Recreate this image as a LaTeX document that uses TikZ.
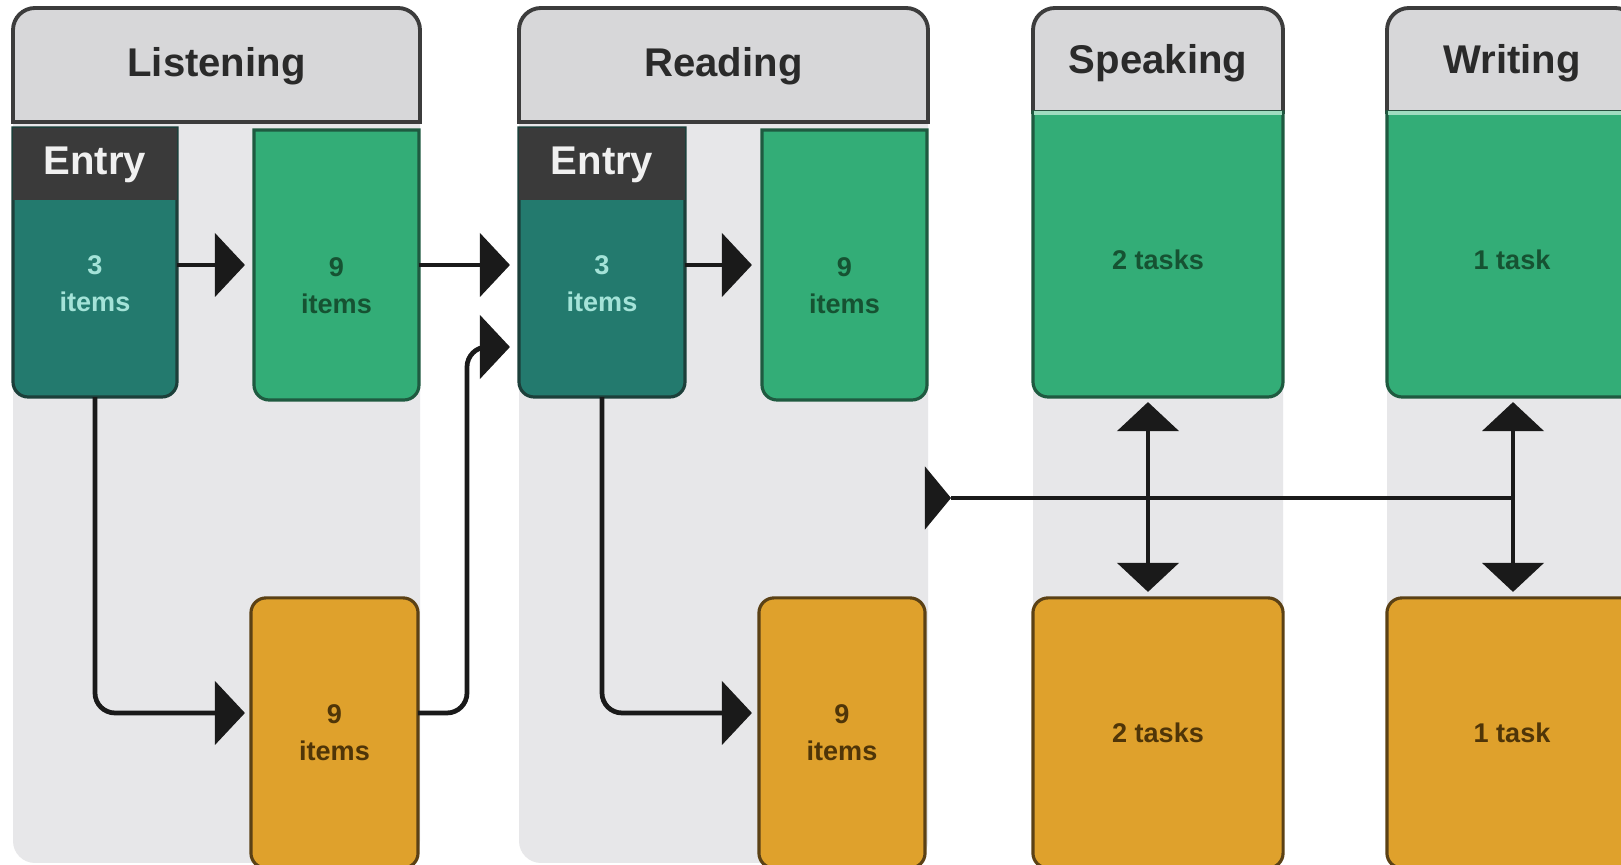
\documentclass[tikz,border=0pt]{standalone}
\usepackage{fontspec}
\setmainfont{Liberation Sans}
\usetikzlibrary{arrows.meta,calc}
\definecolor{lanec}{HTML}{E7E7E9}
\definecolor{hdrc}{HTML}{D7D7D9}
\definecolor{hdrb}{HTML}{3C3C3C}
\definecolor{hdrt}{HTML}{2A2A2A}
\definecolor{entryd}{HTML}{3A3A3A}
\definecolor{tealc}{HTML}{237A6E}
\definecolor{tealb}{HTML}{1C3F3A}
\definecolor{tealt}{HTML}{A4E3D8}
\definecolor{grnc}{HTML}{33AD77}
\definecolor{grnb}{HTML}{1F5A40}
\definecolor{grnt}{HTML}{165232}
\definecolor{grnl}{HTML}{A0DCC0}
\definecolor{orgc}{HTML}{DFA12C}
\definecolor{orgb}{HTML}{5B4115}
\definecolor{orgt}{HTML}{4F3508}
\definecolor{arrc}{HTML}{1A1A1A}
% box with square top and rounded bottom corners: x1 y1 x2 y2 r(px) style
\newcommand\mysqtop[6]{\path[#6] (#1,#2) -- (#3,#2) -- (#3,{#4-#5}) arc[start angle=0,end angle=-90,radius=#5*0.01cm] -- ({#1+#5},#4) arc[start angle=-90,end angle=-180,radius=#5*0.01cm] -- cycle;}
% box with rounded top and square bottom corners
\newcommand\myrdtop[6]{\path[#6] (#1,#4) -- (#1,{#2+#5}) arc[start angle=180,end angle=90,radius=#5*0.01cm] -- ({#3-#5},#2) arc[start angle=90,end angle=0,radius=#5*0.01cm] -- (#3,#4) -- cycle;}
\begin{document}
\begin{tikzpicture}[x=0.01cm,y=-0.01cm,
  lanest/.style={fill=lanec},
  hdrst/.style={fill=hdrc,draw=hdrb,line width=1.1pt},
  tealst/.style={fill=tealc,draw=tealb,line width=0.9pt},
  grnst/.style={fill=grnc,draw=grnb,line width=0.9pt},
  anchorbox/.style={inner sep=0pt,outer sep=0pt,draw=none,fill=none},
  hdrtext/.style={font=\bfseries\fontsize{11.4pt}{13pt}\selectfont,text=hdrt,inner sep=0pt},
  entrytext/.style={font=\bfseries\fontsize{11.4pt}{13pt}\selectfont,text=white!94!black,inner sep=0pt},
  smalltext/.style={font=\bfseries\fontsize{7.7pt}{10.5pt}\selectfont,align=center,inner sep=0pt},
  obox/.style={fill=orgc,draw=orgb,line width=0.9pt,rounded corners=0.15cm,inner sep=0pt,outer sep=0pt,
    minimum height=2.70cm,text=orgt,font=\bfseries\fontsize{7.7pt}{10.5pt}\selectfont,align=center},
  conn/.style={draw=arrc,line width=1.35pt,rounded corners=0.2cm,-{Triangle[length=0.30cm,width=0.63cm]}},
  dconn/.style={draw=arrc,line width=1.35pt,{Triangle[length=0.29cm,width=0.61cm]}-{Triangle[length=0.29cm,width=0.61cm]}},
  hline/.style={draw=arrc,line width=1.35pt}]
\useasboundingbox (0,0) rectangle (1621,865);
\clip (0,0) rectangle (1621,865);
\fill[white] (0,0) rectangle (1621,865);

% lanes
\mysqtop{13}{60}{420}{863}{22}{lanest}
\mysqtop{519}{60}{928}{863}{22}{lanest}
\mysqtop{1033}{60}{1283}{863}{22}{lanest}
\mysqtop{1387}{60}{1637}{863}{22}{lanest}

% headers
\myrdtop{13}{8}{420}{122}{22}{hdrst}
\myrdtop{519}{8}{928}{122}{22}{hdrst}
\myrdtop{1033}{8}{1283}{112}{22}{hdrst}
\myrdtop{1387}{8}{1637}{112}{22}{hdrst}

% entry boxes
\mysqtop{13}{128}{177}{397}{15}{tealst}
\fill[entryd] (13,128) rectangle (177,200);
\mysqtop{519}{128}{685}{397}{15}{tealst}
\fill[entryd] (519,128) rectangle (685,200);

% green boxes
\mysqtop{254}{130}{419}{400}{15}{grnst}
\mysqtop{762}{130}{927}{400}{15}{grnst}
\mysqtop{1033}{112}{1283}{397}{15}{grnst}
\mysqtop{1387}{112}{1637}{397}{15}{grnst}
\draw[grnl,line width=1pt] (1034,113) -- (1282,113);
\draw[grnl,line width=1pt] (1388,113) -- (1636,113);

% anchor nodes for boxes
\node[anchorbox,minimum width=1.64cm,minimum height=2.69cm] (E1) at (95,262.5) {};
\node[anchorbox,minimum width=1.65cm,minimum height=2.70cm] (G1) at (336.5,265) {};
\node[anchorbox,minimum width=1.66cm,minimum height=2.69cm] (E2) at (602,262.5) {};
\node[anchorbox,minimum width=1.65cm,minimum height=2.70cm] (G2) at (844.5,265) {};
\node[anchorbox,minimum width=2.50cm,minimum height=2.85cm] (G3) at (1158,254.5) {};
\node[anchorbox,minimum width=2.50cm,minimum height=2.85cm] (G4) at (1512,254.5) {};

% orange boxes
\node[obox,minimum width=1.67cm] (O1) at (334.5,733) {9\\items};
\node[obox,minimum width=1.66cm] (O2) at (842,733) {9\\items};
\node[obox,minimum width=2.50cm] (O3) at (1158,733) {2 tasks};
\node[obox,minimum width=2.50cm] (O4) at (1512,733) {1 task};

% texts
\node[hdrtext] (H1) at (216.5,66) {Listening};
\node[hdrtext] (H2) at (723.5,66) {Reading};
\node[hdrtext] (H3) at (1158,63) {Speaking};
\node[hdrtext] (H4) at (1512,63) {Writing};
\node[entrytext] (E1h) at (95,165) {Entry};
\node[entrytext] (E2h) at (602,165) {Entry};
\node[smalltext,text=tealt] (E1t) at (95,284) {3\\items};
\node[smalltext,text=tealt] (E2t) at (602,284) {3\\items};
\node[smalltext,text=grnt] (G1t) at (336.5,286) {9\\items};
\node[smalltext,text=grnt] (G2t) at (844.5,286) {9\\items};
\node[smalltext,text=grnt] (G3t) at (1158,260) {2 tasks};
\node[smalltext,text=grnt] (G4t) at (1512,260) {1 task};

% connectors
\coordinate (j1) at (467,347);
\draw[conn,shorten >=0.09cm] (E1.east |- G1.west) -- (G1.west);
\draw[conn,shorten >=0.09cm] (G1.east) -- (E2.west |- G1.east);
\draw[conn,shorten >=0.09cm] ([yshift=0.2cm]O1.east) -| (j1) -- (E2.west |- j1);
\draw[conn,shorten >=0.06cm] (E1.south) |- ([yshift=0.2cm]O1.west);
\draw[conn,shorten >=0.10cm] (E2.east |- G2.west) -- (G2.west);
\draw[conn,shorten >=0.07cm] (E2.south) |- ([yshift=0.2cm]O2.west);
\draw[dconn,shorten <=0.05cm,shorten >=0.06cm] ([xshift=-0.1cm]G3.south) -- ([xshift=-0.1cm]O3.north);
\draw[dconn,shorten <=0.05cm,shorten >=0.06cm] ([xshift=0.01cm]G4.south) -- ([xshift=0.01cm]O4.north);
\coordinate (hj) at ([xshift=0.01cm]G4.south |- 0,498);
\coordinate (ht) at (951,498);
\draw[hline] (hj) -- (ht);
\fill[arrc] (ht) -- ++(-0.26cm,0.315cm) -- ++(0cm,-0.63cm) -- cycle;
\end{tikzpicture}
\end{document}
